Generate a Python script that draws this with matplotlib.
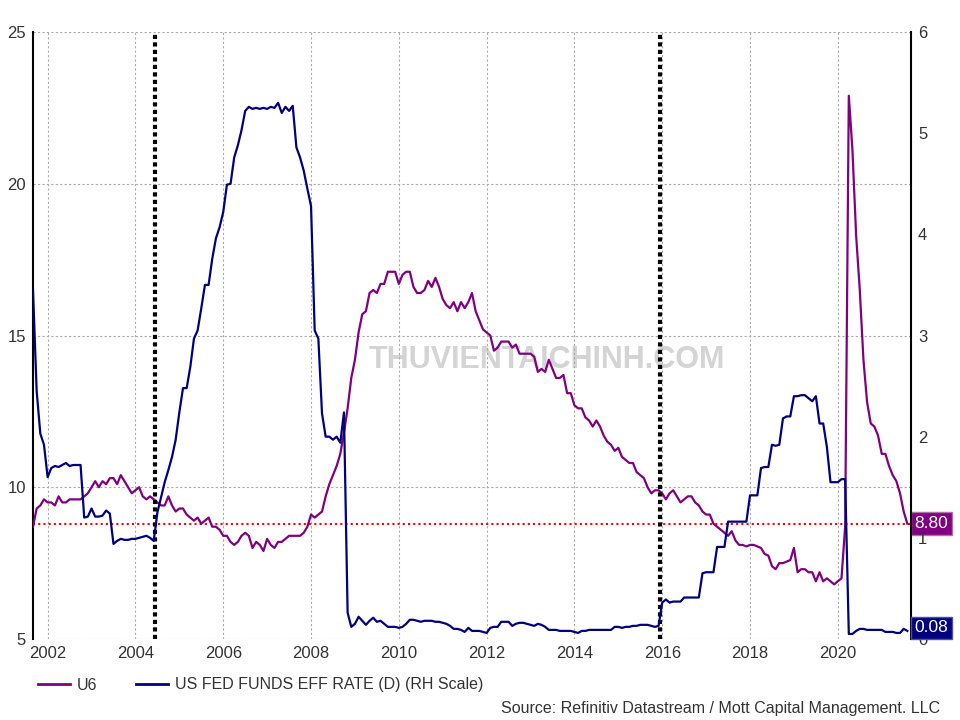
import numpy as np
import matplotlib
matplotlib.use("Agg")
import matplotlib.pyplot as plt
import matplotlib.transforms as mtransforms
from matplotlib.lines import Line2D

plt.rcParams['font.family'] = ['Liberation Sans', 'DejaVu Sans']

# monthly readings, Sep 2001 .. Aug 2021
start_year = 2001
start_month = 9

u6 = [
    8.7, 9.3, 9.4, 9.6,                                               # 2001 Sep-Dec
    9.5, 9.5, 9.4, 9.7, 9.5, 9.5, 9.6, 9.6, 9.6, 9.6, 9.7, 9.8,       # 2002
    10.0, 10.2, 10.0, 10.2, 10.1, 10.3, 10.3, 10.1, 10.4, 10.2, 10.0, 9.8,  # 2003
    9.9, 10.0, 9.7, 9.6, 9.7, 9.6, 9.5, 9.4, 9.4, 9.7, 9.4, 9.2,      # 2004
    9.3, 9.3, 9.1, 9.0, 8.9, 9.0, 8.8, 8.9, 9.0, 8.7, 8.7, 8.6,       # 2005
    8.4, 8.4, 8.2, 8.1, 8.2, 8.4, 8.5, 8.4, 8.0, 8.2, 8.1, 7.9,       # 2006
    8.3, 8.1, 8.0, 8.2, 8.2, 8.3, 8.4, 8.4, 8.4, 8.4, 8.5, 8.7,       # 2007
    9.1, 9.0, 9.1, 9.2, 9.7, 10.1, 10.4, 10.7, 11.1, 11.8, 12.6, 13.6,  # 2008
    14.2, 15.1, 15.7, 15.8, 16.4, 16.5, 16.4, 16.7, 16.7, 17.1, 17.1, 17.1,  # 2009
    16.7, 17.0, 17.1, 17.1, 16.6, 16.4, 16.4, 16.5, 16.8, 16.6, 16.9, 16.6,  # 2010
    16.2, 16.0, 15.9, 16.1, 15.8, 16.1, 15.9, 16.1, 16.4, 15.8, 15.5, 15.2,  # 2011
    15.1, 15.0, 14.5, 14.6, 14.8, 14.8, 14.8, 14.6, 14.7, 14.4, 14.4, 14.4,  # 2012
    14.4, 14.3, 13.8, 13.9, 13.8, 14.2, 13.9, 13.6, 13.6, 13.7, 13.1, 13.1,  # 2013
    12.7, 12.6, 12.6, 12.3, 12.2, 12.0, 12.2, 12.0, 11.7, 11.5, 11.4, 11.2,  # 2014
    11.3, 11.0, 10.9, 10.8, 10.8, 10.5, 10.4, 10.3, 10.0, 9.8, 9.9, 9.9,     # 2015
    9.8, 9.6, 9.8, 9.9, 9.7, 9.5, 9.6, 9.7, 9.7, 9.5, 9.4, 9.2,       # 2016
    9.1, 9.1, 8.8, 8.7, 8.6, 8.5, 8.4, 8.55, 8.25, 8.1, 8.1, 8.05,    # 2017
    8.1, 8.1, 8.05, 8.0, 7.8, 7.75, 7.4, 7.3, 7.5, 7.5, 7.55, 7.6,    # 2018
    8.0, 7.2, 7.3, 7.3, 7.2, 7.2, 6.9, 7.2, 6.9, 7.0, 6.9, 6.8,       # 2019
    6.9, 7.0, 8.7, 22.9, 21.1, 18.3, 16.5, 14.2, 12.8, 12.1, 12.0, 11.7,  # 2020
    11.1, 11.1, 10.7, 10.4, 10.2, 9.8, 9.2, 8.8,                      # 2021 Jan-Aug
]

fed_funds = [
    3.45, 2.45, 2.03, 1.92,                                           # 2001 Sep-Dec
    1.60, 1.69, 1.71, 1.70, 1.72, 1.74, 1.71, 1.72, 1.72, 1.72, 1.20, 1.21,  # 2002
    1.29, 1.21, 1.21, 1.22, 1.27, 1.24, 0.94, 0.97, 0.99, 0.98, 0.98, 0.99,  # 2003
    0.99, 1.00, 1.01, 1.02, 1.00, 0.97, 1.25, 1.40, 1.55, 1.67, 1.80, 1.97,  # 2004
    2.24, 2.48, 2.48, 2.69, 2.97, 3.05, 3.27, 3.50, 3.50, 3.76, 3.96, 4.07,  # 2005
    4.22, 4.49, 4.50, 4.76, 4.88, 5.03, 5.22, 5.26, 5.24, 5.25, 5.24, 5.25,  # 2006
    5.24, 5.26, 5.25, 5.30, 5.20, 5.26, 5.22, 5.27, 4.86, 4.76, 4.63, 4.45,  # 2007
    4.28, 3.05, 2.97, 2.23, 2.00, 2.00, 1.97, 2.00, 1.94, 2.24, 0.26, 0.12,  # 2008
    0.15, 0.22, 0.18, 0.14, 0.18, 0.21, 0.17, 0.18, 0.15, 0.12, 0.12, 0.12,  # 2009
    0.11, 0.12, 0.15, 0.19, 0.19, 0.18, 0.17, 0.18, 0.18, 0.18, 0.17, 0.17,  # 2010
    0.16, 0.15, 0.13, 0.10, 0.10, 0.09, 0.07, 0.11, 0.08, 0.08, 0.08, 0.07,  # 2011
    0.06, 0.11, 0.12, 0.12, 0.17, 0.17, 0.17, 0.13, 0.15, 0.16, 0.16, 0.15,  # 2012
    0.14, 0.13, 0.15, 0.14, 0.12, 0.09, 0.09, 0.09, 0.08, 0.08, 0.08, 0.08,  # 2013
    0.07, 0.06, 0.08, 0.08, 0.09, 0.09, 0.09, 0.09, 0.09, 0.09, 0.09, 0.12,  # 2014
    0.12, 0.11, 0.12, 0.12, 0.13, 0.13, 0.14, 0.14, 0.14, 0.13, 0.12, 0.13,  # 2015
    0.36, 0.39, 0.36, 0.37, 0.37, 0.37, 0.41, 0.41, 0.41, 0.41, 0.41, 0.65,  # 2016
    0.66, 0.66, 0.66, 0.91, 0.91, 0.91, 1.16, 1.16, 1.16, 1.16, 1.16, 1.16,  # 2017
    1.42, 1.42, 1.42, 1.69, 1.70, 1.70, 1.92, 1.91, 1.92, 2.18, 2.20, 2.20,  # 2018
    2.40, 2.40, 2.41, 2.41, 2.38, 2.35, 2.40, 2.13, 2.13, 1.90, 1.55, 1.55,  # 2019
    1.55, 1.58, 1.58, 0.05, 0.05, 0.08, 0.10, 0.10, 0.09, 0.09, 0.09, 0.09,  # 2020
    0.09, 0.07, 0.07, 0.07, 0.06, 0.06, 0.10, 0.08,                   # 2021 Jan-Aug
]

hike_starts = [2004.45, 2015.96]
u6_level = 8.80
ff_level = 0.08
year_ticks = list(range(2002, 2021, 2))

u6_color = '#800080'
ff_color = '#000080'
text_color = '#333333'

x = start_year + (start_month - 1) / 12 + np.arange(len(u6)) / 12

fig = plt.figure(figsize=(9.6, 7.2), dpi=100)
ax = fig.add_axes([33 / 960, 1 - 639 / 720, 878 / 960, 607 / 720])
ax2 = ax.twinx()

# watermark
ax.text(0.585, 0.46, 'THUVIENTAICHINH.COM', transform=ax.transAxes,
        fontsize=22, fontweight='bold', color='#d4d4d4', ha='center', va='center', zorder=0)

ax.plot(x, u6, color=u6_color, lw=1.6, zorder=3)
ax2.plot(x, fed_funds, color=ff_color, lw=1.6, zorder=3)

ax.axhline(u6_level, color='red', lw=1.5, ls=(0, (1, 1.5)), zorder=2)
for xv in hike_starts:
    ax.axvline(xv, color='black', lw=3, ls=(0, (1, 0.8)), zorder=4)

ax.set_xlim(2001 + 8 / 12, 2021 + 8 / 12)
ax.set_ylim(5, 25)
ax2.set_ylim(0, 6)

ax.set_xticks(year_ticks)
ax.set_yticks([5, 10, 15, 20, 25])
ax2.set_yticks(range(0, 7))
ax.grid(True, color='#aaaaaa', lw=0.8, ls=(0, (2, 2)))

for a in (ax, ax2):
    for side in ('top', 'bottom', 'left', 'right'):
        a.spines[side].set_visible(False)
ax.spines['left'].set_visible(True)
ax.spines['left'].set_linewidth(1.5)
ax2.spines['right'].set_visible(True)
ax2.spines['right'].set_linewidth(1.5)

ax.tick_params(axis='both', length=0, labelsize=12, labelcolor=text_color)
ax.tick_params(axis='y', pad=5)
ax.tick_params(axis='x', pad=5)
ax2.tick_params(axis='y', length=0, labelsize=12, labelcolor=text_color, pad=5)

# last value boxes on the right
trans = mtransforms.blended_transform_factory(ax.transAxes, ax.transData)
ax.text(1.004, u6_level, '%.2f' % u6_level, transform=trans, color='white', fontsize=12.5,
        ha='left', va='center', zorder=10, clip_on=False,
        bbox=dict(boxstyle='square,pad=0.22', fc=u6_color, ec='#b070b0', lw=1))
trans2 = mtransforms.blended_transform_factory(ax2.transAxes, ax2.transData)
ax2.text(1.004, ff_level + 0.03, '%.2f' % ff_level, transform=trans2, color='white', fontsize=12.5,
         ha='left', va='center', zorder=10, clip_on=False,
         bbox=dict(boxstyle='square,pad=0.22', fc=ff_color, ec='#5050a0', lw=1))

handles = [Line2D([], [], color=u6_color, lw=2),
           Line2D([], [], color=ff_color, lw=2)]
fig.legend(handles, ['U6', 'US FED FUNDS EFF RATE (D) (RH Scale)'], loc='center left',
           bbox_to_anchor=(38 / 960, 1 - 685 / 720), ncol=2, frameon=False, fontsize=11.5,
           handlelength=2.0, handletextpad=0.45, columnspacing=2.4, borderpad=0, borderaxespad=0,
           labelcolor=text_color)

fig.text(940 / 960, 1 - 708 / 720, 'Source: Refinitiv Datastream / Mott Capital Management. LLC',
         ha='right', va='center', fontsize=11.5, color=text_color)

fig.savefig('out.png', dpi=100)
